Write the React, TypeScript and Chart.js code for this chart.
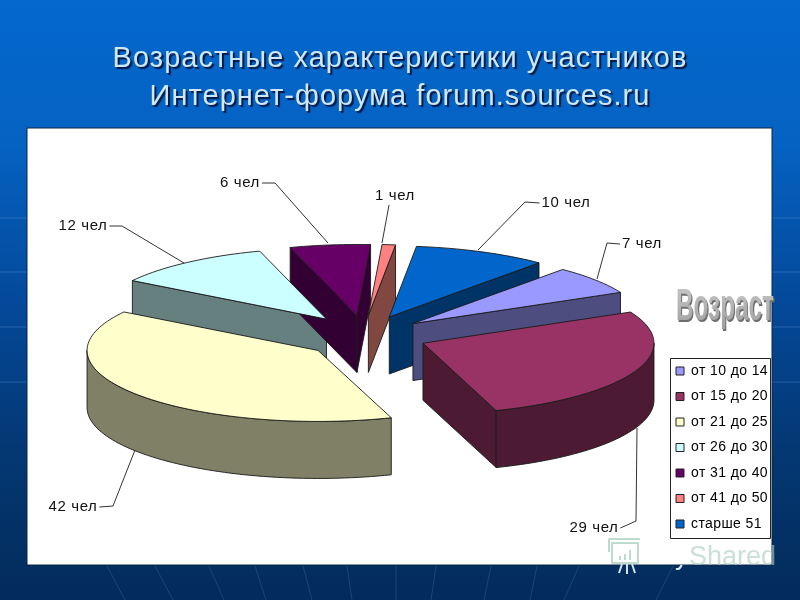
import { useEffect, useRef } from "react";
import { Chart, registerables } from "chart.js";

Chart.register(...registerables);

const titleLines = ["Возрастные характеристики участников", "Интернет-форума forum.sources.ru"];
const categories = ["от 10 до 14", "от 15 до 20", "от 21 до 25", "от 26 до 30", "от 31 до 40", "от 41 до 50", "старше 51"];
const people = [7, 29, 42, 12, 6, 1, 10];
const valueUnit = "чел";
const topColors = ["#9999ff", "#993366", "#ffffcc", "#ccffff", "#660066", "#ff8080", "#0066cc"];
const wallColors = ["#4d4d80", "#4d1a33", "#808066", "#668080", "#330033", "#804840", "#003366"];

// drawing layout of the 3D projection
const CX = 367;
const CY = 335;
const R = 231;
const K = 71 / 231;
const EXPLODE = 60.7;
const DEPTH = 57;
const ROTATION = 40.4;
const nudgeX = [-2, 0, -1, -4, -3, -4, -2];
const nudgeY = [0, 1, 4, -1, -1, -1, -1];
const wallOrder = [3, 4, 5, 6, 0, 1, 2];
// [label x, label y, elbow x, elbow y, anchor x, anchor y] per slice
const labelLayout = [
  [642, 244, 607, 243, 597, 279],
  [594, 528, 636, 521, 637, 428],
  [73, 507, 113, 506, 135, 450],
  [83, 226, 122, 226, 184, 263],
  [240, 183, 275, 183, 328, 243],
  [395, 196, 389, 205, 382, 243],
  [566, 203, 525, 202, 478, 250],
];
const backLinesY = [218, 272, 327, 382];
const backLinesX = [[107, 125], [155, 173], [209, 224], [255, 266], [303, 312], [347, 352], [396, 396], [436, 431], [491, 484], [537, 530], [579, 564], [673, 656]];

function projector(chart: any, i: number) {
  const arc: any = chart.getDatasetMeta(0).data[i];
  const a = chart.chartArea;
  const bx = (a.left + a.right) / 2;
  const by = (a.top + a.bottom) / 2;
  return (r: number, t: number, d = 0): [number, number] => [
    CX + (arc.x - bx) + r * Math.cos(t),
    CY + K * (arc.y - by + r * Math.sin(t)) + d,
  ];
}

function poly(ctx: CanvasRenderingContext2D, pts: [number, number][], fill: string | null, stroke: string | null) {
  ctx.beginPath();
  pts.forEach((p, i) => (i ? ctx.lineTo(p[0], p[1]) : ctx.moveTo(p[0], p[1])));
  ctx.closePath();
  if (fill) {
    ctx.fillStyle = fill;
    ctx.fill();
  }
  if (stroke) {
    ctx.strokeStyle = stroke;
    ctx.lineWidth = 0.9;
    ctx.lineJoin = "round";
    ctx.stroke();
  }
}

function rimPoints(P: any, a: number, b: number, d = 0) {
  const pts: [number, number][] = [];
  const n = Math.max(2, Math.ceil(Math.abs(b - a) / 0.03));
  for (let j = 0; j <= n; j++) pts.push(P(R, a + ((b - a) * j) / n, d));
  return pts;
}

function wrapDraw(box: any, c: any, setup: () => void) {
  if (!box || box.__wrapped) return;
  const d = box.draw;
  box.draw = function (...args: any[]) {
    c.save();
    setup();
    d.apply(this, args);
    c.restore();
  };
  box.__wrapped = true;
}

const slide3d = {
  id: "slide3d",
  beforeDraw(chart: any) {
    const c = chart.ctx;
    c.save();
    const g = c.createLinearGradient(0, 0, 0, 600);
    g.addColorStop(0, "#0468cd");
    g.addColorStop(0.24, "#0562c2");
    g.addColorStop(0.5, "#04499a");
    g.addColorStop(0.75, "#043873");
    g.addColorStop(1, "#032b5b");
    c.fillStyle = g;
    c.fillRect(0, 0, 800, 600);
    c.strokeStyle = "rgba(120,170,225,0.3)";
    c.lineWidth = 1;
    backLinesY.forEach((y) => {
      c.beginPath();
      c.moveTo(0, y);
      c.lineTo(27, y);
      c.moveTo(772, y);
      c.lineTo(800, y);
      c.stroke();
    });
    c.strokeStyle = "rgba(120,170,225,0.2)";
    backLinesX.forEach((s) => {
      c.beginPath();
      c.moveTo(s[0], 566);
      c.lineTo(s[1], 600);
      c.stroke();
    });
    c.fillStyle = "#ffffff";
    c.fillRect(27, 128, 745, 437);
    c.strokeStyle = "#0a2545";
    c.strokeRect(27, 128, 745, 437);
    c.restore();
    wrapDraw(chart.titleBlock, c, () => {
      c.shadowColor = "rgba(0,20,60,0.95)";
      c.shadowOffsetX = 2;
      c.shadowOffsetY = 2;
      c.shadowBlur = 1;
      c.letterSpacing = "1.03px";
    });
    wrapDraw(chart.legend, c, () => {
      c.letterSpacing = "0.4px";
    });
  },
  afterDatasetsUpdate(chart: any) {
    const l = chart.legend;
    l.left = 664.5;
    l.right = 771;
    l.width = 106.5;
    l.top = 352.5;
    l.bottom = 600;
    l.height = 247.5;
    const meta = chart.getDatasetMeta(0);
    meta.data.forEach((arc: any, i: number) => {
      const mid = (arc.startAngle + arc.endAngle) / 2;
      arc.x += EXPLODE * Math.cos(mid) + nudgeX[i];
      arc.y += EXPLODE * Math.sin(mid) + nudgeY[i] / K;
    });
  },
  beforeDatasetsDraw(chart: any) {
    const c = chart.ctx;
    const meta = chart.getDatasetMeta(0);
    // side walls, back to front
    wallOrder.forEach((i) => {
      const arc: any = meta.data[i];
      const P = projector(chart, i);
      const s = arc.startAngle;
      const e = arc.endAngle;
      if (Math.sin(s - Math.PI / 2) > 0) {
        poly(c, [P(0, s), P(R, s), P(R, s, DEPTH), P(0, s, DEPTH)], wallColors[i], "#1a1a1a");
      }
      if (Math.sin(e + Math.PI / 2) > 0) {
        poly(c, [P(0, e), P(R, e), P(R, e, DEPTH), P(0, e, DEPTH)], wallColors[i], "#1a1a1a");
      }
      const a = Math.max(s, 0);
      const b = Math.min(e, Math.PI);
      if (b > a) {
        poly(c, [...rimPoints(P, a, b), ...rimPoints(P, b, a, DEPTH)], wallColors[i], "#1a1a1a");
      }
    });
    const a = chart.chartArea;
    const bx = (a.left + a.right) / 2;
    const by = (a.top + a.bottom) / 2;
    c.save();
    c.translate(CX, CY);
    c.scale(1, K);
    c.translate(-bx, -by);
  },
  afterDatasetsDraw(chart: any) {
    const c = chart.ctx;
    c.restore();
    const meta = chart.getDatasetMeta(0);
    meta.data.forEach((arc: any, i: number) => {
      const P = projector(chart, i);
      poly(c, [P(0, arc.startAngle), ...rimPoints(P, arc.startAngle, arc.endAngle)], null, "#1a1a1a");
    });
    // leader lines and value labels
    c.save();
    c.strokeStyle = "#333333";
    c.lineWidth = 1;
    c.fillStyle = "#111111";
    c.font = "15px 'Liberation Sans'";
    c.letterSpacing = "0.6px";
    c.textAlign = "center";
    c.textBaseline = "middle";
    people.forEach((v, i) => {
      const [lx, ly, ex, ey, ax, ay] = labelLayout[i];
      const text = `${v} ${valueUnit}`;
      const w = c.measureText(text).width / 2 + 2;
      const sx = ex < lx ? lx - w : ex > lx ? lx + w : lx;
      c.beginPath();
      c.moveTo(ax, ay);
      c.lineTo(ex, ey);
      if (Math.abs(ex - lx) > w) c.lineTo(sx, ly);
      c.stroke();
      c.fillText(text, lx, ly);
    });
    c.restore();
    // legend frame
    c.save();
    c.strokeStyle = "#222222";
    c.lineWidth = 1;
    c.strokeRect(670.5, 358.5, 100, 180);
    c.restore();
    // WordArt axis caption
    c.save();
    c.font = "bold 45px 'Liberation Sans Narrow', 'Liberation Sans'";
    c.textAlign = "left";
    c.textBaseline = "alphabetic";
    const word = "Возраст";
    c.translate(676, 320);
    const ww = c.measureText(word).width;
    c.scale(98 / ww, 1);
    c.fillStyle = "#6e6e6e";
    c.fillText(word, 2, 2);
    const g = c.createLinearGradient(0, -32, 0, 8);
    g.addColorStop(0, "#c4c4c4");
    g.addColorStop(1, "#a0a0a0");
    c.fillStyle = g;
    c.fillText(word, 0, 0);
    c.restore();
    // watermark
    c.save();
    c.strokeStyle = "rgba(170,205,190,0.75)";
    c.lineWidth = 2;
    c.strokeRect(612, 543, 26, 20);
    c.beginPath();
    c.moveTo(609, 552); c.lineTo(609, 539); c.lineTo(640, 539);
    c.moveTo(620, 560); c.lineTo(620, 556);
    c.moveTo(625, 560); c.lineTo(625, 554);
    c.moveTo(630, 560); c.lineTo(630, 550);
    c.stroke();
    c.strokeStyle = "#cfe5f0";
    c.beginPath();
    c.moveTo(619, 573); c.lineTo(622, 564);
    c.moveTo(627, 574); c.lineTo(627, 564);
    c.moveTo(635, 573); c.lineTo(632, 564);
    c.stroke();
    c.fillStyle = "rgba(170,205,190,0.62)";
    c.font = "27px 'Liberation Sans'";
    c.textAlign = "left";
    c.textBaseline = "alphabetic";
    c.fillText("Shared", 689, 565);
    c.beginPath();
    c.rect(660, 565, 40, 12);
    c.clip();
    c.fillStyle = "#d8ecf5";
    c.fillText("y", 675, 564);
    c.restore();
  },
};

export default function App() {
  const ref = useRef<HTMLCanvasElement>(null);
  useEffect(() => {
    document.body.style.margin = "0";
    const chart = new Chart(ref.current as HTMLCanvasElement, {
      type: "pie",
      data: {
        labels: categories,
        datasets: [
          {
            data: people,
            backgroundColor: topColors,
            borderWidth: 0,
            radius: R,
            rotation: ROTATION,
            clip: false,
          } as any,
        ],
      },
      options: {
        responsive: false,
        animation: false,
        events: [],
        layout: { padding: 0 },
        plugins: {
          tooltip: { enabled: false },
          title: {
            display: true,
            text: titleLines,
            color: "#d0e8f6",
            font: { family: "'Liberation Sans'", size: 29, weight: "normal", lineHeight: 1.31 },
            padding: { top: 40, bottom: 0 },
          },
          legend: {
            position: "right",
            align: "start",
            labels: {
              boxWidth: 8,
              boxHeight: 8,
              padding: 11.5,
              color: "#111111",
              font: { family: "'Liberation Sans'", size: 14 },
              generateLabels: () =>
                categories.map((text, i) => ({
                  text,
                  fillStyle: topColors[i],
                  strokeStyle: "#222222",
                  lineWidth: 1,
                  hidden: false,
                  index: i,
                })),
            },
          },
        },
      } as any,
      plugins: [slide3d],
    });
    return () => chart.destroy();
  }, []);
  return <canvas ref={ref} width={800} height={600} style={{ display: "block", width: 800, height: 600 }} />;
}
